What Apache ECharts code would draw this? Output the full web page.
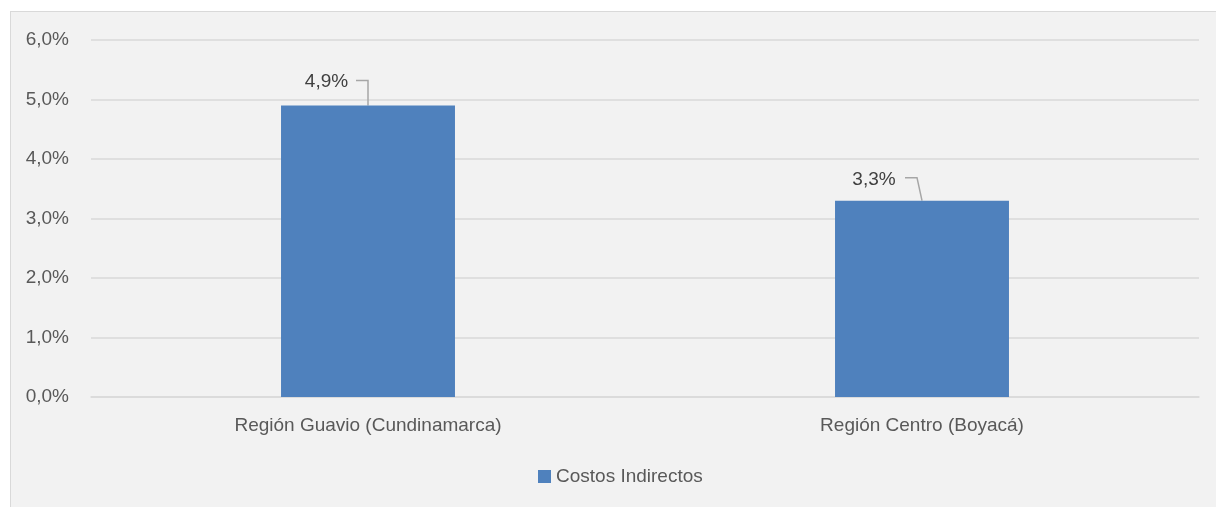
<!DOCTYPE html>
<html>
<head>
<meta charset="utf-8">
<script src="https://cdn.jsdelivr.net/npm/echarts@6/dist/echarts.min.js"></script>
<style>
  html, body { margin: 0; padding: 0; background: #ffffff; overflow: hidden; }
  #frame {
    position: absolute; left: 10px; top: 11px; width: 1230px; height: 520px;
    background: #f2f2f2; border: 1px solid #d9d9d9; box-sizing: border-box;
  }
  #chart { position: absolute; left: 0; top: 0; width: 1216px; height: 507px; }
</style>
</head>
<body>
<div id="frame"></div>
<div id="chart"></div>
<script>
// Indirect cost share per region
const categories = ['Región Guavio (Cundinamarca)', 'Región Centro (Boyacá)'];
const costosIndirectos = [4.9, 3.3];
const seriesName = 'Costos Indirectos';
const yMin = 0, yMax = 6, yStep = 1;

const fmt = v => v.toFixed(1).replace('.', ',') + '%';
const FONT = '"Liberation Sans", Arial, sans-serif';

// leader line and label placement relative to each bar top
const leader = [
  { pts: [[-12, -25], [0, -25], [0, 0]], label: [-41.5, -23.5] },
  { pts: [[-17, -23], [-5, -23], [0, 0]], label: [-48, -21] }
];

const chart = echarts.init(document.getElementById('chart'), null, { renderer: 'canvas' });
chart.setOption({
  backgroundColor: 'transparent',
  animation: false,
  grid: { left: 91, right: 17, top: 40, bottom: 110 },
  legend: {
    left: 533, top: 462,
    itemWidth: 13, itemHeight: 13,
    icon: 'rect',
    data: [seriesName],
    textStyle: { color: '#595959', fontSize: 19, fontFamily: FONT }
  },
  xAxis: {
    type: 'category',
    data: categories,
    axisLine: { show: true, lineStyle: { color: '#d9d9d9', width: 1.5 } },
    axisTick: { show: false },
    axisLabel: { color: '#595959', fontSize: 19, fontFamily: FONT, margin: 19 }
  },
  yAxis: {
    type: 'value',
    min: yMin, max: yMax, interval: yStep,
    axisLine: { show: false },
    axisTick: { show: false },
    splitLine: { lineStyle: { color: '#d9d9d9', width: 1.5 } },
    axisLabel: { color: '#595959', fontSize: 19, fontFamily: FONT, margin: 22, formatter: fmt }
  },
  series: [
    {
      name: seriesName,
      type: 'bar',
      data: costosIndirectos,
      barWidth: '31.4%',
      itemStyle: { color: '#4f81bd' },
      label: { show: false }
    },
    {
      type: 'custom',
      silent: true,
      data: costosIndirectos.map((v, i) => [i, v]),
      renderItem: (params, api) => {
        const i = params.dataIndex;
        const v = api.value(1);
        const p = api.coord([api.value(0), v]);
        const cfg = leader[i];
        return {
          type: 'group',
          children: [
            {
              type: 'polyline',
              shape: { points: cfg.pts.map(o => [p[0] + o[0], p[1] + o[1]]) },
              style: { stroke: '#a6a6a6', lineWidth: 1.5, fill: null }
            },
            {
              type: 'text',
              x: p[0] + cfg.label[0],
              y: p[1] + cfg.label[1],
              style: {
                text: fmt(v),
                fill: '#404040',
                font: '19px ' + FONT,
                align: 'center',
                verticalAlign: 'middle'
              }
            }
          ]
        };
      }
    }
  ]
});
</script>
</body>
</html>
